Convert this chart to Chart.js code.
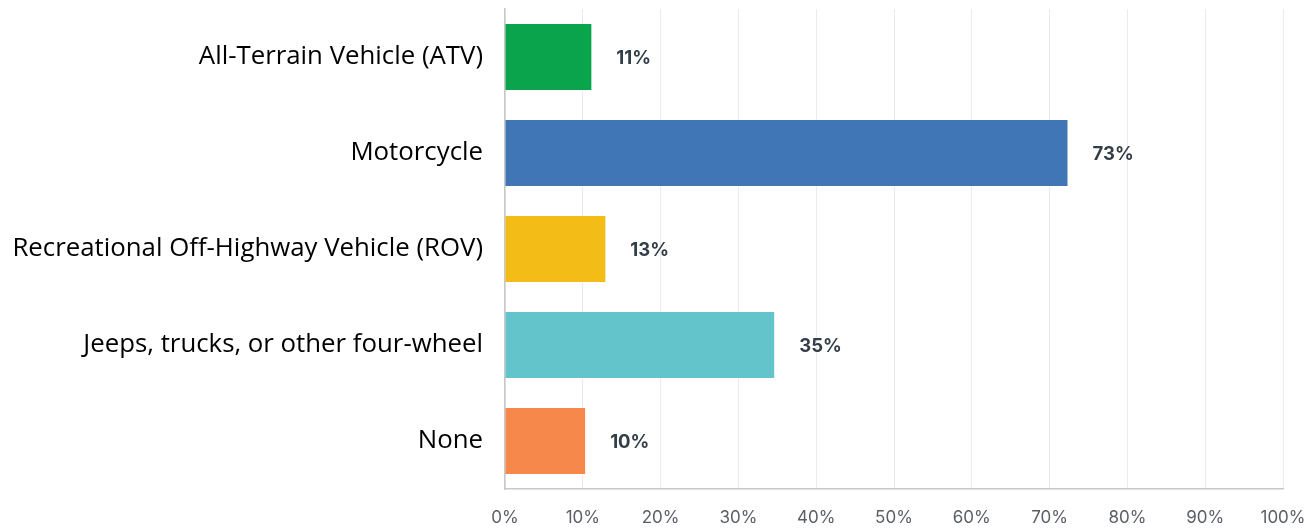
<!DOCTYPE html>
<html>
<head>
<meta charset="utf-8">
<script src="https://cdn.jsdelivr.net/npm/chart.js@4"></script>
<style>
  html, body { margin: 0; padding: 0; background: #fff; }
  #wrap { width: 1306px; height: 529px; }
</style>
</head>
<body>
<div id="wrap"><canvas id="vehicleChart" width="1306" height="529"></canvas></div>
<script>
let categories = ['All-Terrain Vehicle (ATV)', 'Motorcycle', 'Recreational Off-Highway Vehicle (ROV)', 'Jeeps, trucks, or other four-wheel', 'None'];
let values = [11.1, 72.3, 12.9, 34.6, 10.3];
let valueLabels = ['11%', '73%', '13%', '35%', '10%'];
let barColors = ['#09a44b', '#4176b6', '#f4bc16', '#63c5cb', '#f5884a'];
let tickValues = [0, 10, 20, 30, 40, 50, 60, 70, 80, 90, 100];

// draws the percentage next to each bar
const valueLabelPlugin = {
    id: 'valueLabels',
    afterDatasetsDraw(chart) {
        let ctx = chart.ctx;
        let meta = chart.getDatasetMeta(0);
        ctx.save();
        ctx.font = 'bold 18.5px Inter';
        ctx.fillStyle = '#333e48';
        ctx.textBaseline = 'middle';
        ctx.textAlign = 'left';
        meta.data.forEach((bar, i) => {
            ctx.fillText(valueLabels[i], bar.x + 25, bar.y + 1);
        });
        ctx.restore();
    }
};

let ctx = document.getElementById('vehicleChart').getContext('2d');
let chart = new Chart(ctx, {
    type: 'bar',
    data: {
        labels: categories,
        datasets: [{
            data: values,
            backgroundColor: barColors,
            borderWidth: 0,
            barPercentage: 0.69,
            categoryPercentage: 1
        }]
    },
    options: {
        indexAxis: 'y',
        responsive: false,
        animation: false,
        layout: { padding: { top: 9, right: 23, left: 0, bottom: 0 } },
        plugins: {
            legend: { display: false },
            tooltip: { enabled: false }
        },
        scales: {
            x: {
                min: 0,
                max: 100,
                afterBuildTicks: (scale) => {
                    scale.ticks = tickValues.map(v => ({ value: v }));
                },
                afterFit: (scale) => {
                    scale.height = 40;
                    scale.paddingLeft = 0;
                    scale.paddingRight = 0;
                },
                grid: { color: '#ebebeb', lineWidth: 1, drawTicks: false },
                border: { color: '#c8c8c8', width: 1.5 },
                ticks: {
                    padding: 19,
                    color: '#5a5f66',
                    font: { family: 'Inter', size: 17 },
                    callback: (v) => v + '%'
                }
            },
            y: {
                afterFit: (scale) => {
                    scale.width = 505;
                    scale.paddingTop = 0;
                    scale.paddingBottom = 0;
                },
                grid: { display: false },
                border: { color: '#c8c8c8', width: 1.5 },
                ticks: {
                    padding: 14,
                    color: '#000',
                    font: { family: 'Open Sans', size: 25.8 }
                }
            }
        }
    },
    plugins: [valueLabelPlugin]
});
</script>
</body>
</html>
